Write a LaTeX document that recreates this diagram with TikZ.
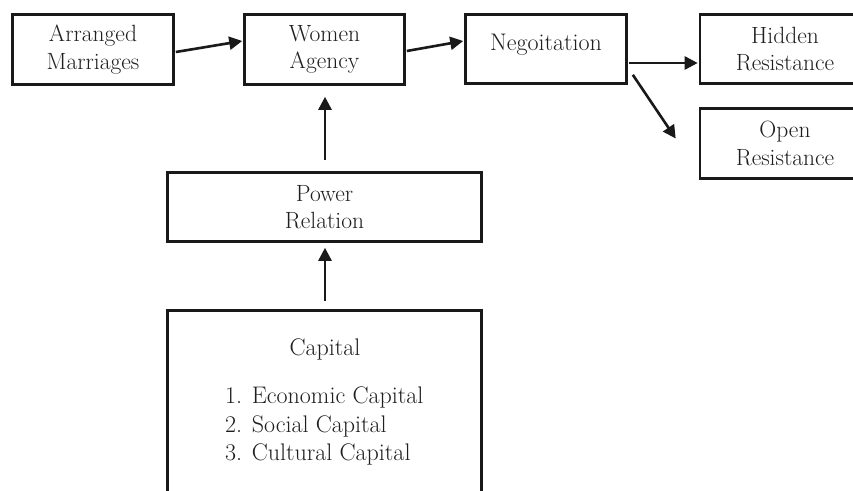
\documentclass[tikz,border=0pt]{standalone}
\usepackage{fontspec}
\usetikzlibrary{arrows.meta,calc}
\begin{document}
\begin{tikzpicture}[x=1pt,y=-1pt,
  box/.style={draw=black!90,line width=2.6pt,inner sep=0pt,align=center,
    font=\fontsize{23.5}{27.5}\selectfont,text=black!88},
  lbl/.style={inner sep=0pt,font=\fontsize{24}{28.5}\selectfont,text=black!88},
  arr/.style={draw=black!90,line width=2.6pt,-{Triangle[length=13pt,width=13pt]}}]
\useasboundingbox (0,0) rectangle (853,490);
\clip (0,0) rectangle (853,490);
\fill[white] (0,0) rectangle (853,490);
\node[box,minimum width=161pt,minimum height=70pt] (am) at (93,49.5) {Arranged\\Marriages};
\node[box,minimum width=160pt,minimum height=70pt] (wa) at (324.5,49.5) {Women\\Agency};
\node[box,minimum width=161pt,minimum height=69pt] (ng) at (546,49) {};
\node[lbl] (ngt) at (546,45) {Negoitation};
\node[box,minimum width=170pt,minimum height=69pt] (hr) at (785,49) {Hidden\\Resistance};
\node[box,minimum width=170pt,minimum height=70pt] (or) at (785,143.5) {Open\\Resistance};
\node[box,minimum width=314pt,minimum height=69pt] (pr) at (324.5,207) {Power\\Relation};
\node[box,minimum width=314pt,minimum height=200pt] (cap) at (324.5,410.5) {};
\node[lbl] (capt) at (325,349) {Capital};
\node[lbl,anchor=west,align=left] (capl) at (225,426) {1. Economic Capital\\2. Social Capital\\3. Cultural Capital};
\draw[arr] ($(am.east)+(1,2.5)$) -- ($(wa.west)+(-1,-8.5)$);
\draw[arr] ($(wa.east)+(1,1.5)$) -- ($(ng.west)+(-1,-8)$);
\draw[arr] ($(ng.east)+(1,14)$) -- ($(hr.west)+(-1,14)$);
\draw[arr] ($(ng.south east)+(5,-10)$) -- ($(or.west)+(-23,-5)$);
\draw[arr] ($(pr.north)+(0.5,-11)$) -- ($(wa.south)+(0.5,11)$);
\draw[arr] ($(cap.north)+(0.5,-8.5)$) -- ($(pr.south)+(0.5,5)$);
\end{tikzpicture}
\end{document}
